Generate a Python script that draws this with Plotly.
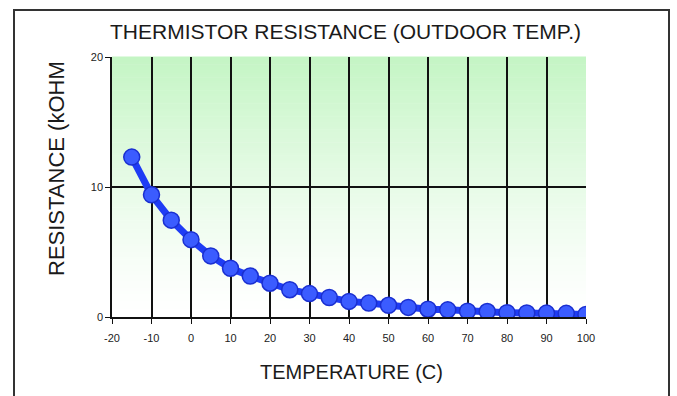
import plotly.graph_objects as go

# Outdoor thermistor curve: temperature (C) vs resistance (kOhm)
temperature_c = [-15, -10, -5, 0, 5, 10, 15, 20, 25, 30, 35, 40,
                 45, 50, 55, 60, 65, 70, 75, 80, 85, 90, 95, 100]
resistance_kohm = [12.3, 9.4, 7.45, 5.95, 4.7, 3.75, 3.15, 2.6, 2.1, 1.8, 1.5, 1.2,
                   1.07, 0.9, 0.74, 0.6, 0.55, 0.45, 0.42, 0.33, 0.31, 0.3, 0.28, 0.2]

x_ticks = [-20, -10, 0, 10, 20, 30, 40, 50, 60, 70, 80, 90, 100]
y_ticks = [0, 10, 20]

W, H = 677, 396
PL, PR, PT, PB = 112, 586, 57, 317  # plot area in pixels
FONT = "Liberation Sans, Arial, sans-serif"


def px_x(p):
    return (p - PL) / (PR - PL)


def px_y(p):
    return (PB - p) / (PB - PT)


fig = go.Figure()

fig.add_trace(go.Scatter(
    x=temperature_c, y=resistance_kohm, mode="lines+markers",
    line=dict(color="#1f3cf5", width=7),
    marker=dict(size=16, color="#3b5cff", line=dict(color="#1a2fd0", width=1.5)),
    hoverinfo="x+y", showlegend=False,
))

# green-to-white vertical gradient behind the grid, drawn as thin bands
shapes = []
n_bands = 100
top = (196, 245, 196)
bottom = (255, 255, 255)
for i in range(n_bands):
    t = (i + 0.5) / n_bands  # 0 at bottom, 1 at top
    f = t ** 1.3
    c = tuple(round(bottom[k] + (top[k] - bottom[k]) * f) for k in range(3))
    shapes.append(dict(
        type="rect", xref="paper", yref="paper",
        x0=0, x1=1, y0=i / n_bands, y1=(i + 1) / n_bands + 0.002,
        fillcolor="rgb(%d,%d,%d)" % c, line=dict(width=0), layer="below",
    ))

# outer frame around the whole chart
shapes.append(dict(
    type="rect", xref="paper", yref="paper",
    x0=px_x(14), x1=px_x(669), y0=px_y(420), y1=px_y(10),
    line=dict(color="#333333", width=2), fillcolor="rgba(0,0,0,0)", layer="above",
))

fig.update_layout(
    width=W, height=H,
    margin=dict(l=PL, r=W - PR, t=PT, b=H - PB),
    paper_bgcolor="white", plot_bgcolor="white",
    shapes=shapes,
    annotations=[
        dict(text="THERMISTOR RESISTANCE (OUTDOOR TEMP.)", xref="paper", yref="paper",
             x=px_x(345), y=px_y(32), xanchor="center", yanchor="middle",
             showarrow=False, font=dict(family=FONT, size=21, color="#1a1a1a")),
        dict(text="TEMPERATURE (C)", xref="paper", yref="paper",
             x=px_x(351), y=px_y(372), xanchor="center", yanchor="middle",
             showarrow=False, font=dict(family=FONT, size=20, color="#1a1a1a")),
        dict(text="RESISTANCE (kOHM", xref="paper", yref="paper",
             x=px_x(56), y=px_y(169), xanchor="center", yanchor="middle", textangle=-90,
             showarrow=False, font=dict(family=FONT, size=22, color="#1a1a1a")),
    ],
    xaxis=dict(
        range=[-20, 100], tickvals=x_ticks, ticktext=[str(v) for v in x_ticks],
        showgrid=True, gridcolor="#111111", gridwidth=1.5,
        showline=True, linecolor="#111111", linewidth=1.5,
        ticks="outside", ticklen=5, tickcolor="#111111", ticklabelstandoff=5,
        tickfont=dict(family=FONT, size=11, color="#222222"),
        zeroline=False, fixedrange=True,
    ),
    yaxis=dict(
        range=[0, 20], tickvals=y_ticks, ticktext=[str(v) for v in y_ticks],
        showgrid=True, gridcolor="#111111", gridwidth=1.5,
        showline=True, linecolor="#111111", linewidth=1.5,
        ticks="outside", ticklen=5, tickcolor="#111111",
        tickfont=dict(family=FONT, size=11, color="#222222"),
        zeroline=False, fixedrange=True,
    ),
)

fig.write_html("out.html")
